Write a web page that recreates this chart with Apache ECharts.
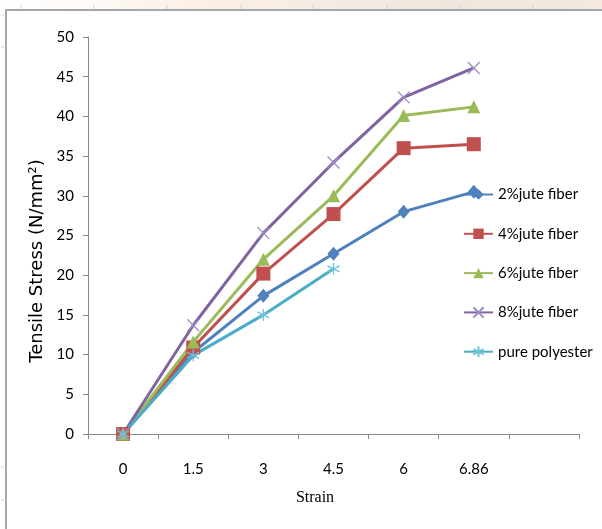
<!DOCTYPE html>
<html>
<head>
<meta charset="utf-8">
<script src="https://cdn.jsdelivr.net/npm/echarts@6/dist/echarts.min.js"></script>
<style>
html,body{margin:0;padding:0;background:#fff;}
#chart{width:602px;height:529px;}
</style>
</head>
<body>
<div id="chart"></div>
<script>
// ---- data ----
var strainLabels = ['0', '1.5', '3', '4.5', '6', '6.86', ''];
var jute2 = [0, 10.3, 17.4, 22.7, 28.0, 30.5];
var jute4 = [0, 10.9, 20.2, 27.7, 36.0, 36.5];
var jute6 = [0, 11.6, 22.0, 30.0, 40.1, 41.2];
var jute8 = [0, 13.7, 25.3, 34.2, 42.4, 46.1];
var purePolyester = [0, 9.9, 15.0, 20.8];
var seriesNames = ['2%jute fiber', '4%jute fiber', '6%jute fiber', '8%jute fiber', 'pure polyester'];
var yTicks = { min: 0, max: 50, interval: 5 };

var narrow = 'Lato, "DejaVu Sans Condensed", sans-serif';
var axisGray = '#8a8a8a';

var chart = echarts.init(document.getElementById('chart'), null, { renderer: 'canvas' });

function lineSeries(name, data, color, symbol, size, itemStyle) {
  return {
    name: name,
    type: 'line',
    data: data,
    symbol: symbol,
    symbolSize: size,
    showAllSymbol: true,
    lineStyle: { color: color, width: 3 },
    itemStyle: itemStyle || { color: color },
    emphasis: { disabled: true },
    animation: false
  };
}

var rulerTicks = [];
[21, 94, 167, 241, 313, 387, 460, 533].forEach(function (x) {
  rulerTicks.push({ type: 'line', shape: { x1: x, y1: 5, x2: x, y2: 9 }, style: { stroke: '#c8d0e6', lineWidth: 1 } });
});
[15, 47, 467, 500].forEach(function (y) {
  rulerTicks.push({ type: 'line', shape: { x1: 1, y1: y, x2: 4, y2: y }, style: { stroke: '#c8d0e6', lineWidth: 1 } });
});

var option = {
  backgroundColor: '#ffffff',
  animation: false,
  grid: { left: 88, right: 23, top: 37, bottom: 95, containLabel: false },
  xAxis: {
    type: 'category',
    data: strainLabels,
    boundaryGap: true,
    axisLine: { show: true, lineStyle: { color: axisGray, width: 1 } },
    axisTick: { show: true, length: 5, lineStyle: { color: axisGray } },
    axisLabel: { color: '#000', fontFamily: narrow, fontSize: 15, margin: 28 },
    splitLine: { show: false }
  },
  yAxis: {
    type: 'value',
    min: yTicks.min, max: yTicks.max, interval: yTicks.interval,
    axisLine: { show: true, lineStyle: { color: axisGray, width: 1 } },
    axisTick: { show: true, length: 5, lineStyle: { color: axisGray } },
    axisLabel: { color: '#000', fontFamily: narrow, fontSize: 15, margin: 14 },
    splitLine: { show: false }
  },
  legend: {
    orient: 'vertical',
    left: 458,
    top: 182,
    itemWidth: 29,
    itemHeight: 13,
    itemGap: 24.3,
    textStyle: { color: '#000', fontFamily: narrow, fontSize: 15, lineHeight: 15 },
    data: seriesNames
  },
  series: [
    lineSeries(seriesNames[0], jute2, '#4F81BD', 'diamond', [12, 14]),
    lineSeries(seriesNames[1], jute4, '#C0504D', 'rect', 14),
    lineSeries(seriesNames[2], jute6, '#9BBB59', 'triangle', 13),
    lineSeries(seriesNames[3], jute8, '#8064A2', 'path://M0,0L10,10M10,0L0,10', 12,
      { color: 'rgba(0,0,0,0)', borderColor: '#9f8cc4', borderWidth: 1.3 }),
    lineSeries(seriesNames[4], purePolyester, '#4BACC6', 'path://M5,0L5,10M0,2.5L10,7.5M0,7.5L10,2.5', 12,
      { color: 'rgba(0,0,0,0)', borderColor: '#6cc3dc', borderWidth: 1.3 })
  ],
  graphic: [
    {
      type: 'rect', shape: { x: 0, y: 0, width: 602, height: 9 }, silent: true,
      style: {
        fill: new echarts.graphic.LinearGradient(0, 0, 1, 0, [
          { offset: 0, color: '#ffffff' },
          { offset: 0.15, color: '#fefaf6' },
          { offset: 0.35, color: '#fbefe3' },
          { offset: 0.55, color: '#f4ece4' },
          { offset: 0.75, color: '#efe6dd' },
          { offset: 1, color: '#f3e9df' }
        ])
      }
    },
    { type: 'line', shape: { x1: 5, y1: 10, x2: 602, y2: 10 }, style: { stroke: '#a6a6a6', lineWidth: 2 } },
    { type: 'line', shape: { x1: 6, y1: 10, x2: 6, y2: 529 }, style: { stroke: '#a6a6a6', lineWidth: 2 } },
    {
      type: 'text', x: 37, y: 261, rotation: Math.PI / 2,
      style: {
        text: 'Tensile Stress (N/mm²)', fill: '#000',
        font: '18px "DejaVu Sans", Verdana, sans-serif',
        textAlign: 'center', textVerticalAlign: 'middle'
      }
    },
    {
      type: 'text', x: 315, y: 498,
      style: {
        text: 'Strain', fill: '#000',
        font: '16px "Liberation Serif", "Times New Roman", serif',
        textAlign: 'center', textVerticalAlign: 'middle'
      }
    }
  ].concat(rulerTicks)
};
chart.setOption(option);
</script>
</body>
</html>
